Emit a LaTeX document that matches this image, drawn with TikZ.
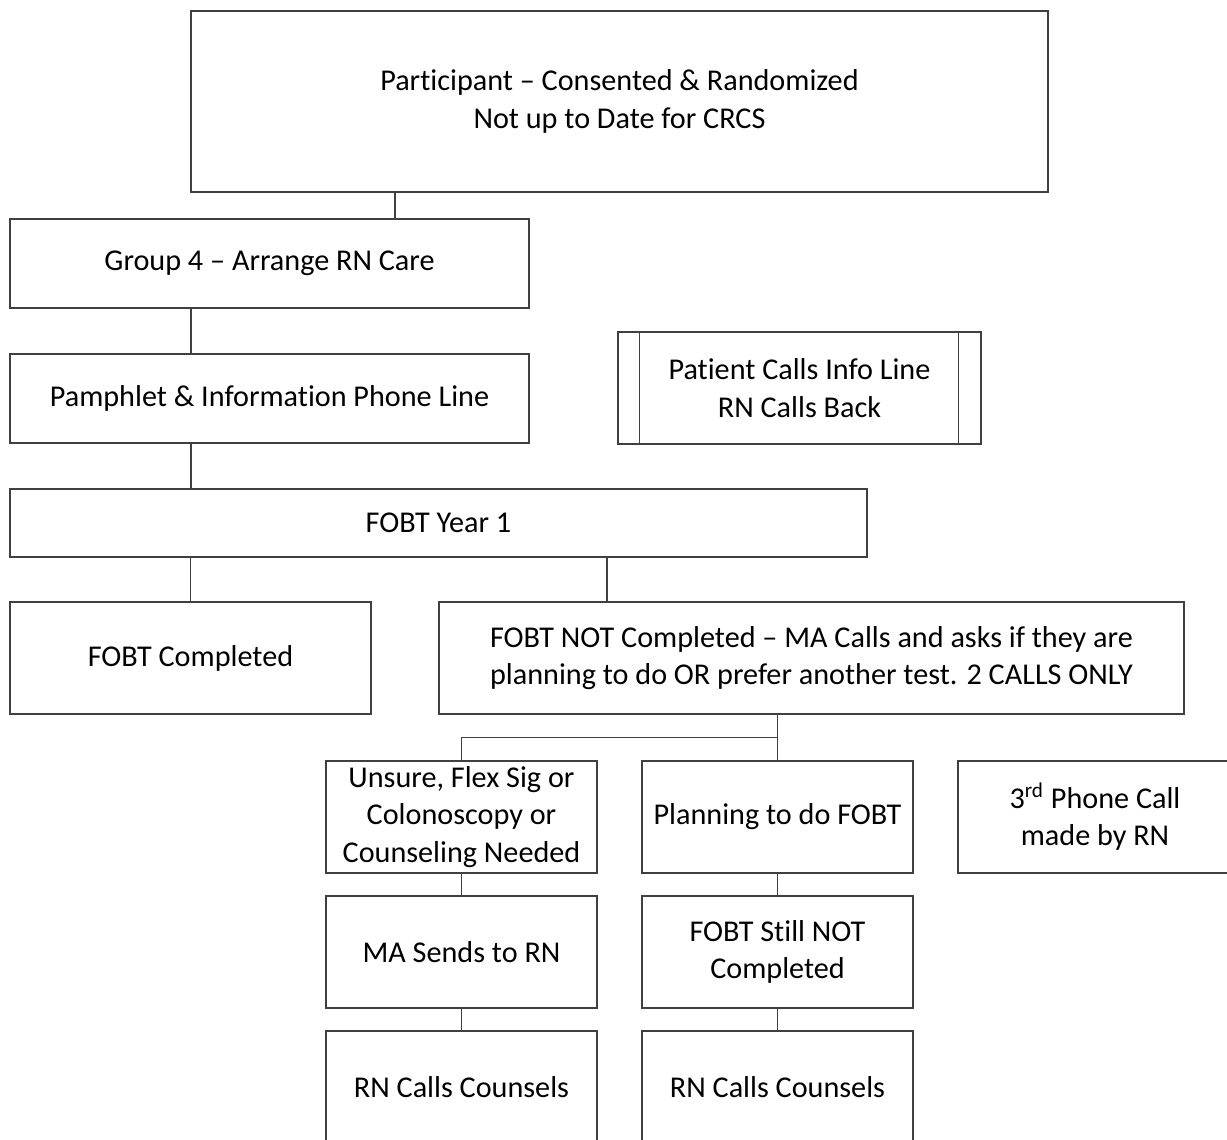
\documentclass[tikz,border=0pt]{standalone}
\usepackage{fontspec}
\setmainfont{Carlito}[RawFeature={-liga;-clig;-dlig;-calt;-hlig}]
\usetikzlibrary{calc}

\tikzset{
  box/.style={draw=black!75, line width=0.6pt, align=center, inner sep=0pt,
    font=\fontsize{15.1pt}{18.7pt}\selectfont},
  link/.style={draw=black!75, line width=0.6pt}
}

\begin{document}
\begin{tikzpicture}[x=0.5pt,y=-0.5pt]
\useasboundingbox (0,0) rectangle (1227,1140);
\clip (0,0) rectangle (1227,1140);
% boxes
\node[box, minimum width=428.5pt, minimum height=90.5pt] (top) at (619.5,101.5)
  {Participant -- Consented \& Randomized\\Not up to Date for CRCS};
\node[box, minimum width=259.5pt, minimum height=44.5pt] (grp) at (269.5,263.5)
  {Group 4 -- Arrange RN Care};
\node[box, minimum width=259.5pt, minimum height=44.5pt] (pam) at (269.5,398.5)
  {Pamphlet \& Information Phone Line};
\node[box, minimum width=181.5pt, minimum height=56pt] (info) at (799.5,388)
  {Patient Calls Info Line\\RN Calls Back};
\draw[link] ([xshift=11pt]info.north west) -- ([xshift=11pt]info.south west);
\draw[link] ([xshift=-11.5pt]info.north east) -- ([xshift=-11.5pt]info.south east);
\node[box, minimum width=428.5pt, minimum height=34pt] (yr1) at (438.5,523)
  {FOBT Year 1};
\node[box, minimum width=180.5pt, minimum height=56pt] (done) at (190.5,658)
  {FOBT Completed};
\node[box, minimum width=372.5pt, minimum height=56pt] (notdone) at (811.5,658)
  {FOBT NOT Completed -- MA Calls and asks if they are\\planning to do OR prefer another test. 2 CALLS ONLY};
\node[box, minimum width=135.5pt, minimum height=56pt] (unsure) at (461.5,817)
  {Unsure, Flex Sig or\\Colonoscopy or\\Counseling Needed};
\node[box, minimum width=135.5pt, minimum height=56pt] (plan) at (777.5,817)
  {Planning to do FOBT};
\node[box, minimum width=137pt, minimum height=56pt] (third) at (1095,817)
  {3\textsuperscript{rd} Phone Call\\made by RN};
\node[box, minimum width=135.5pt, minimum height=56pt] (masend) at (461.5,952)
  {MA Sends to RN};
\node[box, minimum width=135.5pt, minimum height=56pt] (still) at (777.5,952)
  {FOBT Still NOT\\Completed};
\node[box, minimum width=135.5pt, minimum height=56pt] (rna) at (461.5,1087)
  {RN Calls Counsels};
\node[box, minimum width=135.5pt, minimum height=56pt] (rnb) at (777.5,1087)
  {RN Calls Counsels};
% connectors
\coordinate (c1) at (395,0);
\coordinate (c2) at (191,0);
\coordinate (c3) at (607,0);
\coordinate (fork) at (777.5,737.5);
\draw[link] (top.south -| c1) -- (grp.north -| c1);
\draw[link] (grp.south -| c2) -- (pam.north -| c2);
\draw[link] (pam.south -| c2) -- (yr1.north -| c2);
\draw[link] (yr1.south -| done.north) -- (done.north);
\draw[link] (yr1.south -| c3) -- (notdone.north -| c3);
\draw[link] (notdone.south -| fork) -- (plan.north);
\draw[link] (unsure.north) |- (fork);
\draw[link] (unsure) -- (masend);
\draw[link] (masend) -- (rna);
\draw[link] (plan) -- (still);
\draw[link] (still) -- (rnb);
\end{tikzpicture}
\end{document}
